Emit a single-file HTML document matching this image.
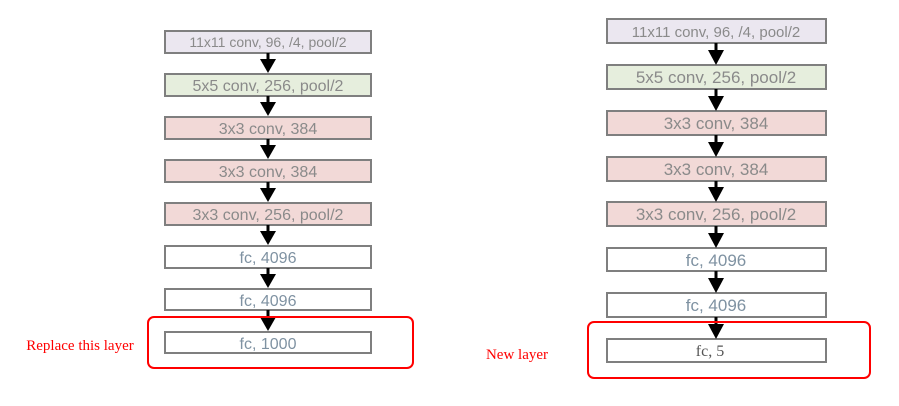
<!DOCTYPE html><html><head><style>body{margin:0;background:#fff}</style></head><body>
<svg width="899" height="401" xmlns="http://www.w3.org/2000/svg">
<g font-family="Liberation Sans, sans-serif" text-anchor="middle" fill="#8a8a8a" stroke-width="2">
<!-- left -->
<g font-size="16">
<rect x="165" y="31" width="206" height="22" fill="#ebe7f0" stroke="#7f7f7f"/><text x="268" y="47" font-size="14">11x11 conv, 96, /4, pool/2</text>
<rect x="165" y="74" width="206" height="22" fill="#e6eedd" stroke="#7f7f7f"/><text x="268" y="91">5x5 conv, 256, pool/2</text>
<rect x="165" y="117" width="206" height="22" fill="#f2d9d7" stroke="#7f7f7f"/><text x="268" y="134">3x3 conv, 384</text>
<rect x="165" y="160" width="206" height="22" fill="#f2d9d7" stroke="#7f7f7f"/><text x="268" y="177">3x3 conv, 384</text>
<rect x="165" y="203" width="206" height="22" fill="#f2d9d7" stroke="#7f7f7f"/><text x="268" y="220">3x3 conv, 256, pool/2</text>
<rect x="165" y="246" width="206" height="22" fill="#fff" stroke="#7f7f7f"/><text x="268" y="263" fill="#7f92a2">fc, 4096</text>
<rect x="165" y="289" width="206" height="21" fill="#fff" stroke="#7f7f7f"/><text x="268" y="306" fill="#7f92a2">fc, 4096</text>
<rect x="165" y="332" width="206" height="21" fill="#fff" stroke="#7f7f7f"/><text x="268" y="349" fill="#7f92a2">fc, 1000</text>
</g>
<g fill="#000" stroke="#000" stroke-width="3">
<line x1="268" y1="53" x2="268" y2="64"/><path d="M260 59h16l-8 14z" stroke="none"/>
<line x1="268" y1="96" x2="268" y2="107"/><path d="M260 102h16l-8 14z" stroke="none"/>
<line x1="268" y1="139" x2="268" y2="150"/><path d="M260 145h16l-8 14z" stroke="none"/>
<line x1="268" y1="182" x2="268" y2="193"/><path d="M260 188h16l-8 14z" stroke="none"/>
<line x1="268" y1="225" x2="268" y2="236"/><path d="M260 231h16l-8 14z" stroke="none"/>
<line x1="268" y1="268" x2="268" y2="279"/><path d="M260 274h16l-8 14z" stroke="none"/>
<line x1="268" y1="310" x2="268" y2="321"/><path d="M260 317h16l-8 14z" stroke="none"/>
</g>
<rect x="148" y="317" width="265" height="51" rx="6" fill="none" stroke="#f00"/>
<text x="80" y="350" font-family="Liberation Serif, serif" font-size="15" fill="#f00">Replace this layer</text>
<!-- right -->
<g font-size="17">
<rect x="607" y="19" width="219" height="24" fill="#ebe7f0" stroke="#7f7f7f"/><text x="716" y="37" font-size="15">11x11 conv, 96, /4, pool/2</text>
<rect x="607" y="65" width="219" height="24" fill="#e6eedd" stroke="#7f7f7f"/><text x="716" y="83">5x5 conv, 256, pool/2</text>
<rect x="607" y="111" width="219" height="24" fill="#f2d9d7" stroke="#7f7f7f"/><text x="716" y="129">3x3 conv, 384</text>
<rect x="607" y="157" width="219" height="24" fill="#f2d9d7" stroke="#7f7f7f"/><text x="716" y="175">3x3 conv, 384</text>
<rect x="607" y="202" width="219" height="24" fill="#f2d9d7" stroke="#7f7f7f"/><text x="716" y="220">3x3 conv, 256, pool/2</text>
<rect x="607" y="248" width="219" height="23" fill="#fff" stroke="#7f7f7f"/><text x="716" y="266" fill="#7f92a2">fc, 4096</text>
<rect x="607" y="293" width="219" height="24" fill="#fff" stroke="#7f7f7f"/><text x="716" y="311" fill="#7f92a2">fc, 4096</text>
<rect x="607" y="339" width="219" height="23" fill="#fff" stroke="#7f7f7f"/><text x="710" y="356" font-family="Liberation Serif, serif" font-size="16" fill="#555">fc, 5</text>
</g>
<g fill="#000" stroke="#000" stroke-width="3">
<line x1="716" y1="43" x2="716" y2="54"/><path d="M708 50h16l-8 15z" stroke="none"/>
<line x1="716" y1="89" x2="716" y2="100"/><path d="M708 96h16l-8 15z" stroke="none"/>
<line x1="716" y1="135" x2="716" y2="146"/><path d="M708 142h16l-8 15z" stroke="none"/>
<line x1="716" y1="181" x2="716" y2="192"/><path d="M708 187h16l-8 15z" stroke="none"/>
<line x1="716" y1="226" x2="716" y2="237"/><path d="M708 233h16l-8 15z" stroke="none"/>
<line x1="716" y1="271" x2="716" y2="282"/><path d="M708 278h16l-8 15z" stroke="none"/>
<line x1="716" y1="317" x2="716" y2="328"/><path d="M708 324h16l-8 15z" stroke="none"/>
</g>
<rect x="588" y="322" width="282" height="56" rx="6" fill="none" stroke="#f00"/>
<text x="517" y="359" font-family="Liberation Serif, serif" font-size="15" fill="#f00">New layer</text>
</g>
</svg>
</body></html>
